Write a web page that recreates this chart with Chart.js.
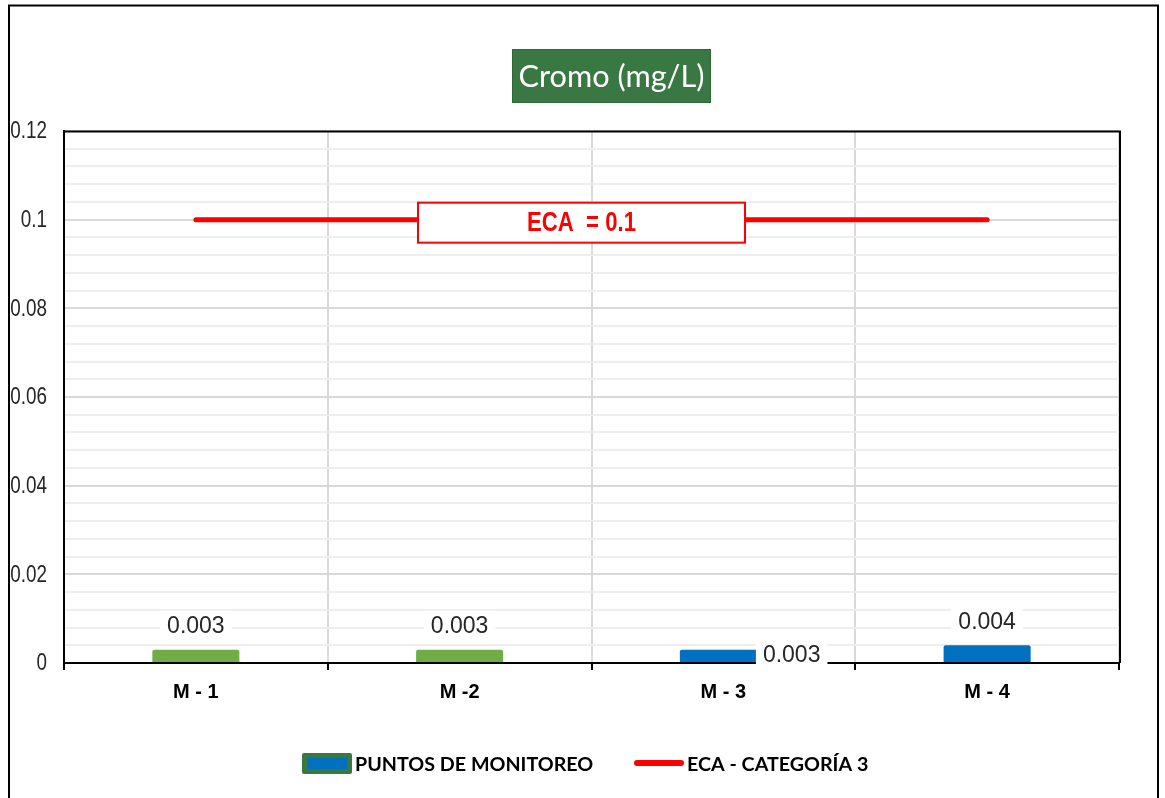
<!DOCTYPE html>
<html>
<head>
<meta charset="utf-8">
<title>Cromo (mg/L)</title>
<script src="https://cdn.jsdelivr.net/npm/chart.js@4.4.1/dist/chart.umd.min.js"></script>
<style>
  html, body { margin: 0; padding: 0; background: #ffffff; }
  #wrap { width: 1165px; height: 798px; position: relative; }
  canvas { display: block; }
</style>
</head>
<body>
<div id="wrap"><canvas id="chart" width="1165" height="798"></canvas></div>
<script>
// Monitoring points and measured chromium (mg/L)
const categories = ['M - 1', 'M -2', 'M - 3', 'M - 4'];
const puntosValues = [0.003, 0.003, 0.003, 0.004];
// Environmental quality standard (ECA, category 3)
const ecaValues = [0.1, 0.1, 0.1, 0.1];
const ecaLimit = 0.1;
// Y axis labelled ticks (minor grid every 0.004 in between)
const yTickValues = [0, 0.02, 0.04, 0.06, 0.08, 0.1, 0.12];
const yMinorStep = 0.004;

const titleText = 'Cromo (mg/L)';
const ecaLabelText = 'ECA  = 0.1';
const legendLabels = ['PUNTOS DE MONITOREO', 'ECA - CATEGORÍA 3'];

const GREEN = '#70AD47';
const BLUE = '#0070C0';
const DARK_GREEN = '#3A7843';
const RED = '#FF0000';
const barColors = [GREEN, GREEN, BLUE, BLUE];

const SANS = '"Liberation Sans", Arial, sans-serif';
const CAL = 'Lato, "Open Sans", "Noto Sans", sans-serif';
const NARROW_X = 0.82; // horizontal squeeze used for the condensed labels

// Fit a font size so that text spans a given width
function fitSize(ctx, text, family, weight, targetWidth) {
  ctx.font = weight + ' 100px ' + family;
  const w = ctx.measureText(text).width;
  return 100 * targetWidth / w;
}

// Draw text squeezed horizontally (condensed look)
function narrowText(ctx, text, x, y, align) {
  ctx.save();
  ctx.translate(x, y);
  ctx.scale(NARROW_X, 1);
  ctx.textAlign = align;
  ctx.fillText(text, 0, 0);
  ctx.restore();
}

const decorPlugin = {
  id: 'decor',
  beforeDraw(chart) {
    const ctx = chart.ctx;
    ctx.save();
    ctx.fillStyle = '#ffffff';
    ctx.fillRect(0, 0, chart.width, chart.height);
    // outer frame (open at the bottom edge)
    ctx.strokeStyle = '#000000';
    ctx.lineWidth = 2;
    ctx.beginPath();
    ctx.moveTo(9, chart.height + 2);
    ctx.lineTo(9, 5.5);
    ctx.lineTo(1158, 5.5);
    ctx.lineTo(1158, chart.height + 2);
    ctx.stroke();
    ctx.restore();
  },
  afterDatasetsDraw(chart) {
    const ctx = chart.ctx;
    const a = chart.chartArea;
    ctx.save();
    ctx.strokeStyle = '#000000';
    ctx.lineWidth = 2;
    ctx.beginPath();
    ctx.moveTo(a.left, a.top + 0.5);
    ctx.lineTo(a.right + 1, a.top + 0.5);
    ctx.lineTo(a.right + 1, a.bottom);
    ctx.stroke();
    ctx.restore();
  },
  afterDraw(chart, args, opts) {
    const ctx = chart.ctx;
    const xs = chart.scales.x;
    const ys = chart.scales.y;
    ctx.save();
    ctx.textBaseline = 'middle';

    // y axis labels (condensed)
    ctx.fillStyle = '#262626';
    ctx.font = '23px ' + SANS;
    yTickValues.forEach(v => {
      narrowText(ctx, String(v), xs.left - 17, ys.getPixelForValue(v) + 1, 'right');
    });

    // value labels on white boxes
    const meta = chart.getDatasetMeta(chart.data.datasets.findIndex(d => d.type === 'bar'));
    ctx.font = '23px ' + SANS;
    ctx.textAlign = 'center';
    meta.data.forEach((bar, i) => {
      const v = puntosValues[i];
      const txt = v.toFixed(3);
      const w = ctx.measureText(txt).width;
      let cx, cy;
      if (opts.rightOf.includes(i)) {
        cx = bar.x + bar.width / 2 - 4 + w / 2;
        cy = (bar.y + bar.base) / 2 - 1;
      } else {
        cx = bar.x;
        cy = bar.y - 24;
      }
      ctx.fillStyle = '#ffffff';
      ctx.fillRect(cx - w / 2 - 7, cy - 15, w + 14, 30);
      ctx.fillStyle = '#262626';
      ctx.fillText(txt, cx, cy + 1);
    });

    // ECA label box on the limit line
    const ey = ys.getPixelForValue(ecaLimit);
    const ex = (xs.getPixelForValue(1) + xs.getPixelForValue(2)) / 2 - 10;
    const bw = 327, bh = 40;
    ctx.fillStyle = '#ffffff';
    ctx.fillRect(ex - bw / 2, ey - 17, bw, bh);
    ctx.strokeStyle = RED;
    ctx.lineWidth = 2;
    ctx.strokeRect(ex - bw / 2, ey - 17, bw, bh);
    ctx.fillStyle = RED;
    ctx.font = 'bold 27px ' + SANS;
    narrowText(ctx, ecaLabelText, ex, ey + 4, 'center');

    // title box
    const tx = 512, ty = 49, tw = 199, th = 54;
    ctx.fillStyle = DARK_GREEN;
    ctx.fillRect(tx, ty, tw, th);
    ctx.strokeStyle = '#2F6638';
    ctx.lineWidth = 1;
    ctx.strokeRect(tx + 0.5, ty + 0.5, tw - 1, th - 1);
    const ts = fitSize(ctx, titleText, CAL, 'normal', 186);
    ctx.font = 'normal ' + ts.toFixed(1) + 'px ' + CAL;
    ctx.fillStyle = '#ffffff';
    ctx.textAlign = 'center';
    ctx.fillText(titleText, tx + tw / 2, ty + th / 2 + 1);

    // legend
    const ly = 764;
    ctx.fillStyle = DARK_GREEN;
    ctx.beginPath();
    ctx.roundRect(302, ly - 11, 50, 21, 2);
    ctx.fill();
    ctx.fillStyle = BLUE;
    ctx.fillRect(307, ly - 6, 40, 11);
    const ls = fitSize(ctx, legendLabels[0], CAL, 'bold', 238);
    ctx.font = 'bold ' + ls.toFixed(1) + 'px ' + CAL;
    ctx.fillStyle = '#000000';
    ctx.textAlign = 'left';
    ctx.fillText(legendLabels[0], 355, ly + 1);
    ctx.strokeStyle = RED;
    ctx.lineWidth = 6;
    ctx.lineCap = 'round';
    ctx.beginPath();
    ctx.moveTo(637, ly - 1);
    ctx.lineTo(681, ly - 1);
    ctx.stroke();
    ctx.fillText(legendLabels[1], 687, ly + 1);

    ctx.restore();
  }
};

const ctx = document.getElementById('chart').getContext('2d');
new Chart(ctx, {
  data: {
    labels: categories,
    datasets: [
      {
        type: 'line',
        label: legendLabels[1],
        data: ecaValues,
        borderColor: RED,
        borderWidth: 5,
        borderCapStyle: 'round',
        pointRadius: 0,
        fill: false,
        order: 1
      },
      {
        type: 'bar',
        label: legendLabels[0],
        data: puntosValues,
        backgroundColor: barColors,
        barPercentage: 0.33,
        categoryPercentage: 1,
        borderRadius: { topLeft: 2, topRight: 2 },
        borderSkipped: 'bottom',
        order: 2
      }
    ]
  },
  options: {
    responsive: false,
    animation: false,
    devicePixelRatio: 1,
    layout: { padding: { top: 131, right: 46, bottom: 0, left: 0 } },
    plugins: {
      legend: { display: false },
      title: { display: false },
      tooltip: { enabled: false },
      decor: { rightOf: [2] }
    },
    scales: {
      x: {
        offset: true,
        grid: {
          offset: true,
          color: '#d9d9d9',
          lineWidth: 2,
          drawTicks: true,
          tickLength: 7,
          tickColor: '#000000',
          tickWidth: 2
        },
        border: { color: '#000000', width: 2 },
        ticks: {
          font: { family: SANS, size: 20, weight: 'bold' },
          color: '#000000',
          padding: 10
        },
        afterFit(scale) { scale.height = 135; }
      },
      y: {
        min: 0,
        max: 0.12,
        afterBuildTicks(scale) {
          const n = Math.round(0.12 / yMinorStep);
          const t = [];
          for (let i = 0; i <= n; i++) t.push({ value: i * yMinorStep });
          scale.ticks = t;
        },
        ticks: { display: false, autoSkip: false },
        grid: {
          drawTicks: false,
          lineWidth: 2,
          color(c) { return c.index % 5 === 0 ? '#d9d9d9' : '#eeeeee'; }
        },
        border: { color: '#000000', width: 2 },
        afterFit(scale) { scale.width = 64; }
      }
    }
  },
  plugins: [decorPlugin]
});
</script>
</body>
</html>
